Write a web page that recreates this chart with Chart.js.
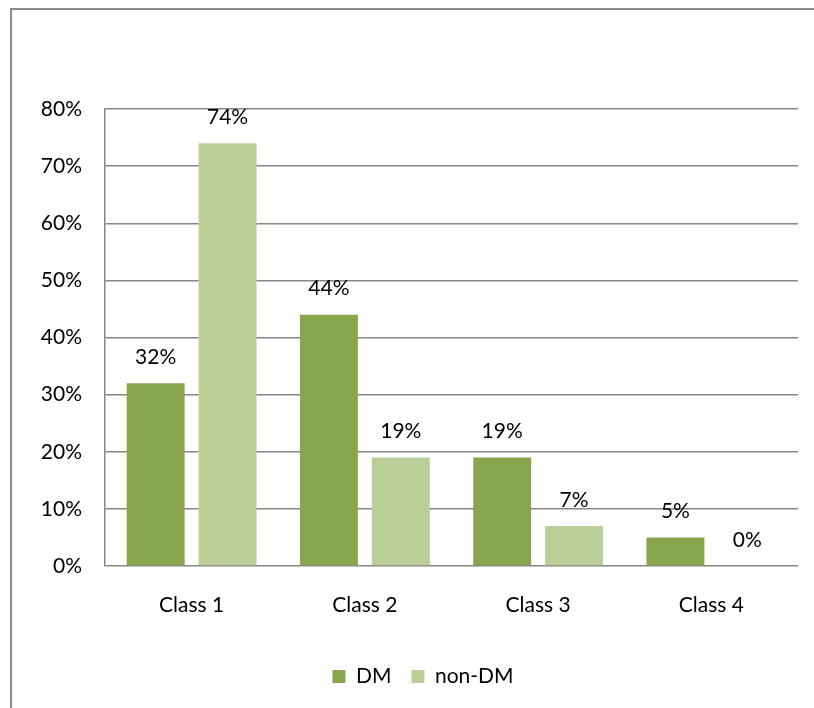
<!DOCTYPE html>
<html>
<head>
<meta charset="utf-8">
<script src="https://cdn.jsdelivr.net/npm/chart.js@4/dist/chart.umd.min.js"></script>
<style>
  html, body { margin: 0; padding: 0; background: #fff; overflow: hidden; }
  #frame { position: absolute; left: 10px; top: 8px; width: 900px; height: 800px;
           border: 2px solid #8c8c8c; box-sizing: border-box; }
  #wrap { position: absolute; left: 0; top: 0; width: 814px; height: 708px; }
</style>
</head>
<body>
<div id="frame"></div>
<div id="wrap"><canvas id="c" width="814" height="708"></canvas></div>
<script>
const categories = ['Class 1', 'Class 2', 'Class 3', 'Class 4'];
const dmValues = [32, 44, 19, 5];
const nonDmValues = [74, 19, 7, 0];
const seriesNames = ['DM', 'non-DM'];
const tickLabels = ['0%', '10%', '20%', '30%', '40%', '50%', '60%', '70%', '80%'];

const FONT = "Lato, 'Open Sans', sans-serif";
const FONT_SIZE = 21;
const GRID = '#868686';

// Writes each bar's value as a percentage above it
const valueLabels = {
  id: 'valueLabels',
  afterDatasetsDraw(chart) {
    const ctx = chart.ctx;
    ctx.save();
    ctx.font = FONT_SIZE + 'px ' + FONT;
    ctx.fillStyle = '#000';
    ctx.textAlign = 'center';
    ctx.textBaseline = 'middle';
    chart.data.datasets.forEach((ds, i) => {
      chart.getDatasetMeta(i).data.forEach((bar, j) => {
        ctx.fillText(ds.data[j] + '%', bar.x, bar.y - 26);
      });
    });
    ctx.restore();
  }
};

// Nudges the legend block a little right of the canvas centre
const legendShift = {
  id: 'legendShift',
  afterLayout(chart) {
    const lg = chart.legend;
    if (!lg) return;
    const orig = lg.draw.bind(lg);
    lg.draw = function () {
      const ctx = chart.ctx;
      ctx.save();
      ctx.translate(24, 0);
      orig();
      ctx.restore();
    };
  }
};

new Chart(document.getElementById('c'), {
  type: 'bar',
  data: {
    labels: categories,
    datasets: [
      { label: seriesNames[0], data: dmValues, backgroundColor: '#89a54e' },
      { label: seriesNames[1], data: nonDmValues, backgroundColor: '#bacf97' }
    ]
  },
  options: {
    responsive: false,
    animation: false,
    events: [],
    categoryPercentage: 0.83,
    barPercentage: 0.806,
    layout: { padding: { top: 109, right: 16, left: 0, bottom: 11 } },
    scales: {
      x: {
        grid: { display: false, drawTicks: false },
        border: { display: false },
        ticks: { color: '#000', font: { family: FONT, size: FONT_SIZE }, padding: 27 },
        afterFit(scale) { scale.height = 80; }
      },
      y: {
        min: 0, max: 80,
        ticks: {
          stepSize: 10, color: '#000', padding: 23,
          font: { family: FONT, size: FONT_SIZE },
          callback: (v) => tickLabels[Math.round(v / 10)]
        },
        grid: { color: GRID, lineWidth: 1.5, drawTicks: false },
        border: { color: GRID, width: 1.5 },
        afterFit(scale) { scale.width = 105; }
      }
    },
    plugins: {
      legend: {
        position: 'bottom',
        labels: {
          color: '#000', boxWidth: 13, boxHeight: 13, padding: 20,
          font: { family: FONT, size: FONT_SIZE }
        }
      },
      tooltip: { enabled: false }
    }
  },
  plugins: [valueLabels, legendShift]
});
</script>
</body>
</html>
